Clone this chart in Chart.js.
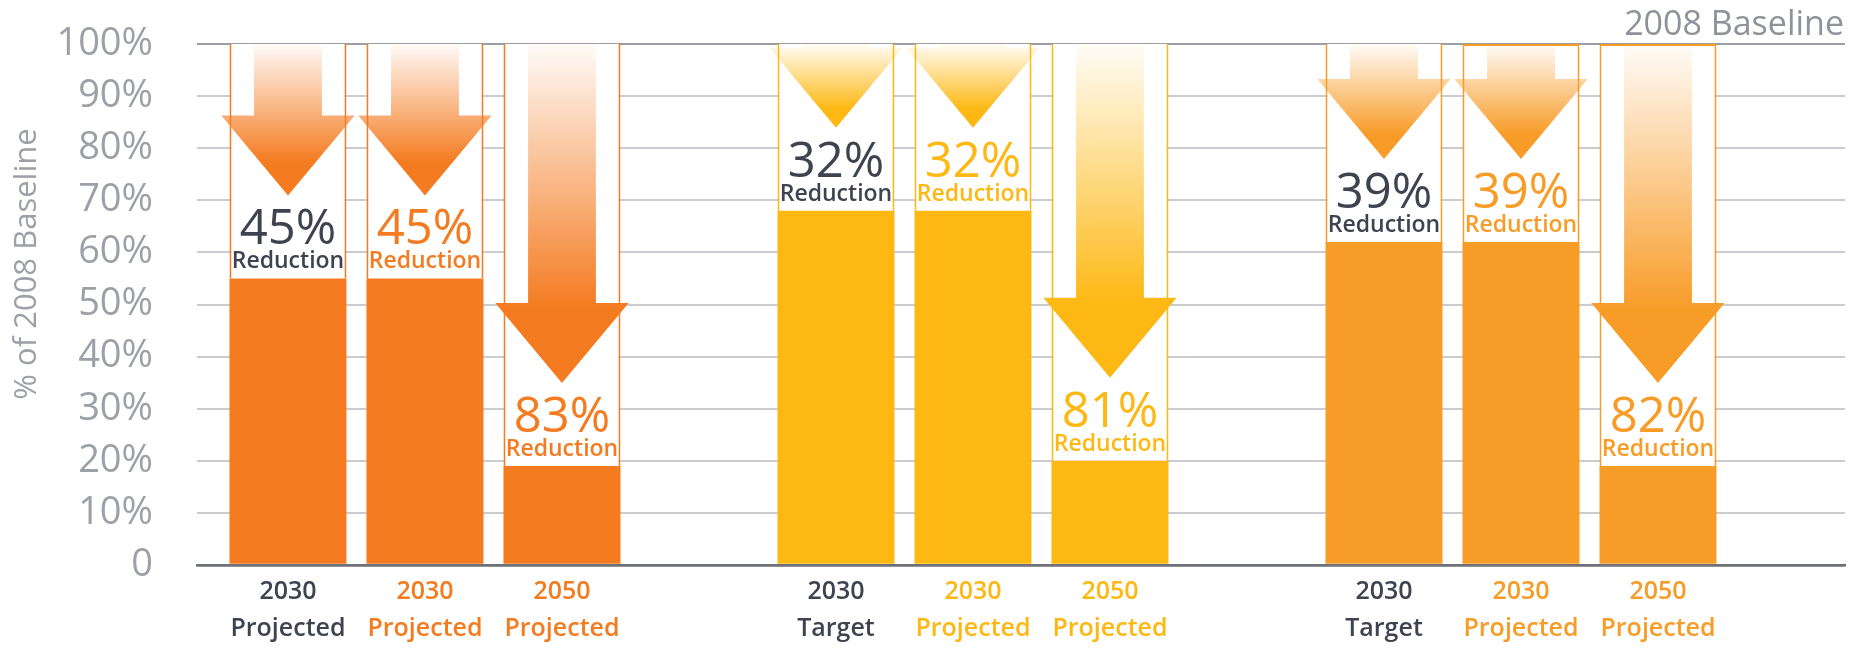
<!DOCTYPE html>
<html>
<head>
<meta charset="utf-8">
<script src="https://cdn.jsdelivr.net/npm/chart.js@4.4.1/dist/chart.umd.min.js"></script>
<style>
  body { margin: 0; background: #fff; }
  #wrap { width: 1869px; height: 648px; }
</style>
</head>
<body>
<div id="wrap"><canvas id="myChart"></canvas></div>
<script>
// bar slots on the x axis (one empty slot between groups)
const slots = [0, 1, 2, 4, 5, 6, 8, 9, 10];
const years = ['2030', '2030', '2050', '2030', '2030', '2050', '2030', '2030', '2050'];
const kinds = ['Projected', 'Projected', 'Projected', 'Target', 'Projected', 'Projected', 'Target', 'Projected', 'Projected'];
// % of 2008 baseline left
const remaining = [55, 55, 19, 68, 68, 20, 62, 62, 19];
const reductionLabels = ['45%', '45%', '83%', '32%', '32%', '81%', '39%', '39%', '82%'];
const barGroup = [0, 0, 0, 1, 1, 1, 2, 2, 2];

const groupColors = ['#F47B20', '#FDB813', '#F89C28'];
const darkText = '#3F4350';
const grayText = '#9DA0A6';

const barColors = barGroup.map(g => groupColors[g]);
// first bar of each group has dark labels
const labelColors = barGroup.map((g, i) => (i % 3 === 0 ? darkText : groupColors[g]));

function rgba(hex, a) {
  const n = parseInt(hex.slice(1), 16);
  return 'rgba(' + (n >> 16) + ',' + ((n >> 8) & 255) + ',' + (n & 255) + ',' + a + ')';
}

const arrowPlugin = {
  id: 'arrows',
  afterDatasetsDraw(chart) {
    const ctx = chart.ctx;
    const area = chart.chartArea;
    const meta = chart.getDatasetMeta(0);
    meta.data.forEach((bar, i) => {
      const w = bar.width;
      const cx = bar.x;
      const yTop = bar.y;
      const tip = yTop - 83;
      const base = tip - 80;
      const col = barColors[i];
      const g = ctx.createLinearGradient(0, area.top, 0, tip);
      g.addColorStop(0, rgba(col, 0.03));
      g.addColorStop(0.78, rgba(col, 1));
      g.addColorStop(1, rgba(col, 1));
      ctx.save();
      ctx.fillStyle = g;
      ctx.beginPath();
      const sw = w * 0.29, hw = w * 0.57;
      const st = Math.min(area.top, base);
      ctx.moveTo(cx - sw, st);
      ctx.lineTo(cx + sw, st);
      ctx.lineTo(cx + sw, base);
      ctx.lineTo(cx + hw, base);
      ctx.lineTo(cx, tip);
      ctx.lineTo(cx - hw, base);
      ctx.lineTo(cx - sw, base);
      ctx.closePath();
      ctx.fill();

      ctx.fillStyle = labelColors[i];
      ctx.textAlign = 'center';
      ctx.textBaseline = 'alphabetic';
      ctx.font = '400 49px "Open Sans"';
      ctx.fillText(reductionLabels[i], cx, yTop - 34);
      ctx.font = '600 23px "Open Sans"';
      ctx.fillText('Reduction', cx, yTop - 10);
      ctx.restore();
    });

    // baseline caption and axis title
    ctx.save();
    ctx.fillStyle = '#8F9298';
    ctx.font = '400 34px "Open Sans"';
    ctx.textAlign = 'right';
    ctx.textBaseline = 'alphabetic';
    ctx.fillText('2008 Baseline', area.right - 1, 35);
    ctx.translate(27, 264);
    ctx.rotate(-Math.PI / 2);
    ctx.textAlign = 'center';
    ctx.textBaseline = 'middle';
    ctx.fillStyle = grayText;
    ctx.font = '400 31px "Open Sans"';
    ctx.fillText('% of 2008 Baseline', 0, 0);
    ctx.restore();
  }
};

const ctx1 = document.getElementById('myChart');

new Chart(ctx1, {
  type: 'bar',
  data: {
    datasets: [
      {
        data: slots.map((s, i) => ({ x: s, y: remaining[i] })),
        backgroundColor: barColors,
        borderWidth: 0,
        barPercentage: 0.854,
        categoryPercentage: 1
      },
      {
        data: slots.map((s, i) => ({ x: s, y: 100 - remaining[i] })),
        backgroundColor: '#ffffff',
        borderColor: barColors,
        borderWidth: barGroup.map((g, i) => ({ left: 2, right: 2, top: i >= 7 ? 2 : 0, bottom: 0 })),
        borderSkipped: false,
        barPercentage: 0.854,
        categoryPercentage: 1
      }
    ]
  },
  options: {
    responsive: true,
    maintainAspectRatio: false,
    animation: false,
    layout: { padding: { top: 44, right: 24, left: 0, bottom: 0 } },
    plugins: {
      legend: { display: false },
      tooltip: { enabled: false }
    },
    scales: {
      x: {
        type: 'linear',
        stacked: true,
        offset: false,
        min: -0.664,
        max: 11.365,
        grid: { display: false },
        border: { color: '#6E7178', width: 2.5 },
        afterBuildTicks: axis => { axis.ticks = slots.map(v => ({ value: v })); },
        afterFit: axis => {
          axis.height = 83;
          axis.paddingLeft = 0;
          axis.paddingRight = 0;
        },
        ticks: {
          autoSkip: false,
          maxRotation: 0,
          padding: 1,
          font: { family: 'Open Sans', size: 25, weight: '600', lineHeight: 1.45 },
          color: c => labelColors[c.index],
          callback: (v, i) => [years[i], kinds[i]]
        }
      },
      y: {
        stacked: true,
        min: 0,
        max: 100,
        afterFit: axis => {
          axis.width = 197;
          axis.paddingTop = 0;
          axis.paddingBottom = 0;
        },
        border: { display: false },
        grid: {
          drawTicks: false,
          color: c => (c.tick.value === 100 ? '#9C9EA3' : c.tick.value === 0 ? '#6E7178' : '#CBCCCF'),
          lineWidth: c => (c.tick.value === 0 ? 2.5 : 2)
        },
        ticks: {
          stepSize: 10,
          padding: 44,
          color: grayText,
          font: { family: 'Open Sans', size: 38 },
          callback: v => (v === 0 ? '0' : v + '%')
        }
      }
    }
  },
  plugins: [arrowPlugin]
});
</script>
</body>
</html>
